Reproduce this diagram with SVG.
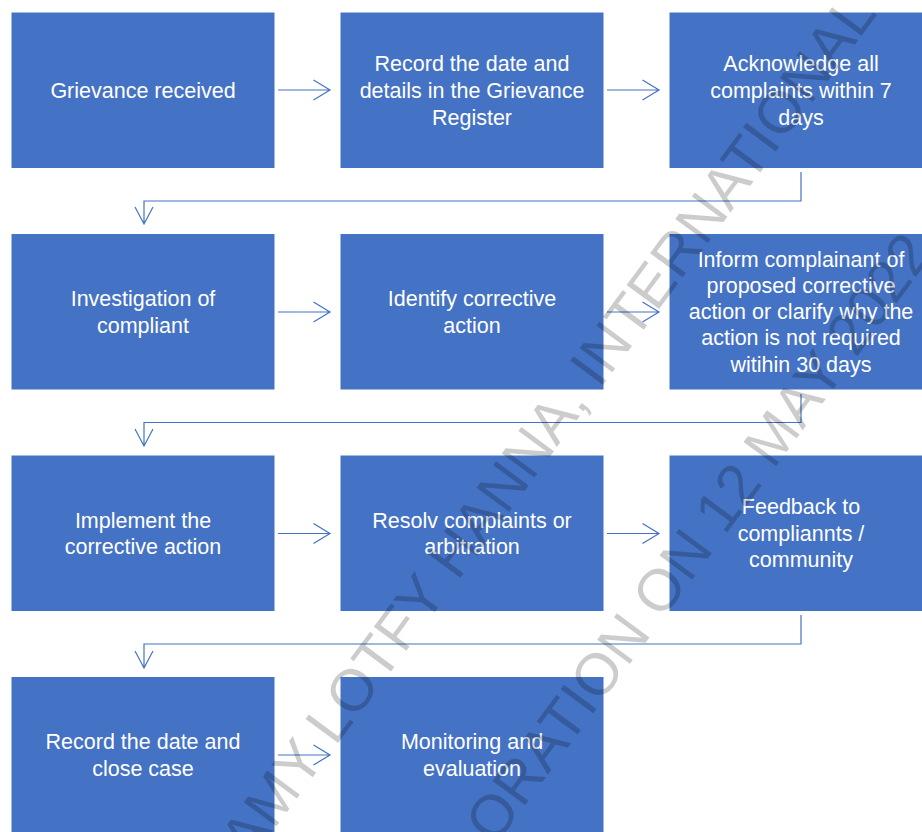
<svg xmlns="http://www.w3.org/2000/svg" width="922" height="832" viewBox="0 0 922 832">
<defs>
<style>
.box{fill:#4472C4;stroke:#ffffff;stroke-width:1}
.lbl{font-family:"Liberation Sans",Arial,sans-serif;font-size:21.5px;fill:#ffffff;text-anchor:middle}
.con{fill:none;stroke:#4472C4;stroke-width:1.2}
.wm{font-family:"Liberation Sans",Arial,sans-serif;font-size:59px;fill:#000000;fill-opacity:0.2}
</style>
</defs>
<rect x="0" y="0" width="922" height="832" fill="#ffffff"/>
<g id="n1"><rect class="box" x="11" y="12" width="264" height="156.5"/><text class="lbl" x="143" y="97.5">Grievance received</text></g>
<g id="n2"><rect class="box" x="340" y="12" width="264" height="156.5"/><text class="lbl" x="472" y="70.5">Record the date and</text><text class="lbl" x="472" y="97.5">details in the Grievance</text><text class="lbl" x="472" y="124.5">Register</text></g>
<g id="n3"><rect class="box" x="669" y="12" width="264" height="156.5"/><text class="lbl" x="801" y="70.5">Acknowledge all</text><text class="lbl" x="801" y="97.5">complaints within 7</text><text class="lbl" x="801" y="124.5">days</text></g>
<g id="n4"><rect class="box" x="11" y="233.5" width="264" height="156.5"/><text class="lbl" x="143" y="305.5">Investigation of</text><text class="lbl" x="143" y="332.5">compliant</text></g>
<g id="n5"><rect class="box" x="340" y="233.5" width="264" height="156.5"/><text class="lbl" x="472" y="305.5">Identify corrective</text><text class="lbl" x="472" y="332.5">action</text></g>
<g id="n6"><rect class="box" x="669" y="233.5" width="264" height="156.5"/><text class="lbl" x="801" y="266.5">Inform complainant of</text><text class="lbl" x="801" y="292.8">proposed corrective</text><text class="lbl" x="801" y="319">action or clarify why the</text><text class="lbl" x="801" y="345.3">action is not required</text><text class="lbl" x="801" y="371.5">witihin 30 days</text></g>
<g id="n7"><rect class="box" x="11" y="455" width="264" height="156.5"/><text class="lbl" x="143" y="527.5">Implement the</text><text class="lbl" x="143" y="554">corrective action</text></g>
<g id="n8"><rect class="box" x="340" y="455" width="264" height="156.5"/><text class="lbl" x="472" y="527.5">Resolv complaints or</text><text class="lbl" x="472" y="554">arbitration</text></g>
<g id="n9"><rect class="box" x="669" y="455" width="264" height="156.5"/><text class="lbl" x="801" y="514">Feedback to</text><text class="lbl" x="801" y="540.5">compliannts /</text><text class="lbl" x="801" y="567">community</text></g>
<g id="n10"><rect class="box" x="11" y="676.5" width="264" height="156.5"/><text class="lbl" x="143" y="748.5">Record the date and</text><text class="lbl" x="143" y="775.5">close case</text></g>
<g id="n11"><rect class="box" x="340" y="676.5" width="264" height="156.5"/><text class="lbl" x="472" y="748.5">Monitoring and</text><text class="lbl" x="472" y="775.5">evaluation</text></g>
<g id="connectors">
<path class="con" d="M278 90H330M313.5 80L330 90L313.5 100"/>
<path class="con" d="M607 90H659M642.5 80L659 90L642.5 100"/>
<path class="con" d="M801 172V201H144V224M135 207L144 224L153 207"/>
<path class="con" d="M278 312H330M313.5 302L330 312L313.5 322"/>
<path class="con" d="M607 312H659M642.5 302L659 312L642.5 322"/>
<path class="con" d="M801 394V422.5H144V446M135 429L144 446L153 429"/>
<path class="con" d="M278 533.5H330M313.5 523.5L330 533.5L313.5 543.5"/>
<path class="con" d="M607 533.5H659M642.5 523.5L659 533.5L642.5 543.5"/>
<path class="con" d="M801 615V644H144V668M135 651L144 668L153 651"/>
<path class="con" d="M278 755H330M313.5 745L330 755L313.5 765"/>
</g>
<g id="watermark">
<text class="wm" transform="translate(250 862) rotate(-53.5)">AMY LOTFY HANNA, INTERNATIONAL</text>
<text class="wm" transform="translate(495 846) rotate(-53.5)">ORATION ON 12 MAY 2022</text>
</g>
</svg>
